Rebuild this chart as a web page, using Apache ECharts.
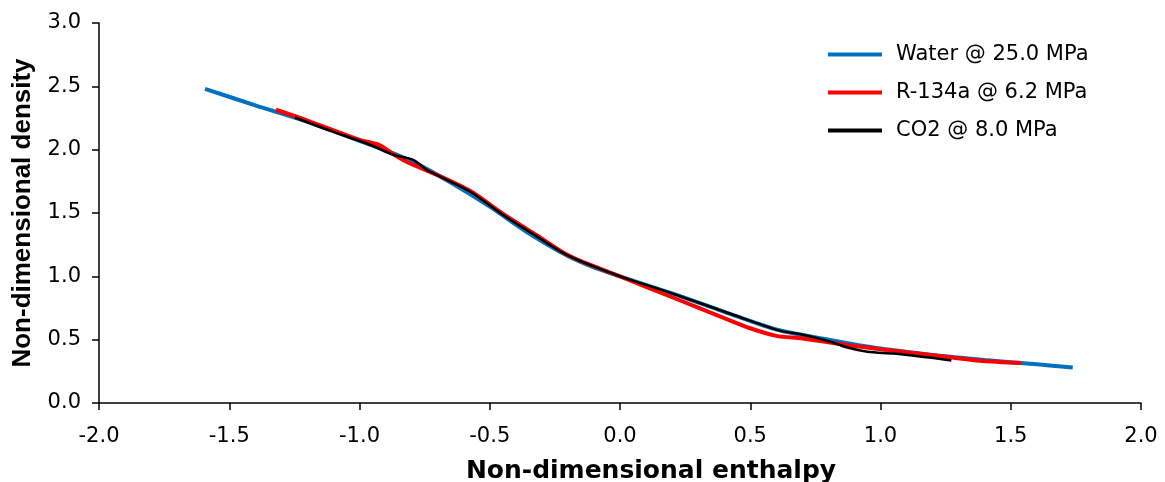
<!DOCTYPE html>
<html>
<head>
<meta charset="utf-8">
<script src="https://cdn.jsdelivr.net/npm/echarts@6/dist/echarts.min.js"></script>
<style>
  html, body { margin: 0; padding: 0; background: #fff; }
  #chart { width: 1165px; height: 482px; }
</style>
</head>
<body>
<div id="chart"></div>
<script>
// values
var waterX = [-1.593, -1.4, -1.2, -1.0, -0.8, -0.65, -0.5, -0.35, -0.2, -0.1, 0, 0.2, 0.4, 0.6, 0.8, 1.0, 1.2, 1.4, 1.6, 1.738]
var waterY = [2.48, 2.35, 2.22, 2.07, 1.91, 1.74, 1.55, 1.34, 1.16, 1.07, 1.0, 0.865, 0.72, 0.58, 0.50, 0.43, 0.38, 0.34, 0.305, 0.28]

var r134X = [-1.321, -1.2, -1.0, -0.922, -0.87, -0.82, -0.69, -0.576, -0.45, -0.32, -0.193, 0, 0.2, 0.4, 0.5, 0.6, 0.7, 0.8, 0.9, 1.0, 1.2, 1.38, 1.541]
var r134Y = [2.315, 2.23, 2.078, 2.035, 1.965, 1.905, 1.79, 1.675, 1.495, 1.325, 1.16, 1.0, 0.835, 0.67, 0.59, 0.53, 0.51, 0.48, 0.45, 0.425, 0.377, 0.334, 0.316]

var co2X = [-1.248, -1.1, -0.96, -0.871, -0.794, -0.742, -0.691, -0.576, -0.45, -0.32, -0.193, 0, 0.178, 0.434, 0.613, 0.69, 0.805, 0.869, 0.95, 1.05, 1.15, 1.272]
var co2Y = [2.254, 2.14, 2.039, 1.96, 1.92, 1.84, 1.788, 1.67, 1.486, 1.315, 1.157, 1.0, 0.881, 0.697, 0.571, 0.545, 0.486, 0.44, 0.405, 0.39, 0.368, 0.336]

var seriesNames = ['Water @ 25.0 MPa', 'R-134a @ 6.2 MPa', 'CO2 @ 8.0 MPa']
var seriesColors = ['#0070C0', '#FF0000', '#000000']

function pairs(xs, ys) {
    var out = []
    for (var i = 0; i < xs.length; i++) {
        out.push([xs[i], ys[i]])
    }
    return out
}

var tickFont = { fontFamily: 'DejaVu Sans', fontSize: 21, color: '#000' }

var myChart = echarts.init(document.getElementById('chart'), null, { renderer: 'canvas' })

var option = {
    animation: false,
    grid: { left: 99, right: 24, top: 23, bottom: 79, containLabel: false, outerBoundsMode: 'none' },
    legend: {
        orient: 'vertical',
        left: 823,
        top: 39,
        icon: 'rect',
        itemWidth: 54,
        itemHeight: 4,
        itemGap: 17,
        data: seriesNames,
        textStyle: {
            fontFamily: 'DejaVu Sans',
            fontSize: 21,
            color: '#000',
            padding: [0, 0, 0, 9]
        }
    },
    xAxis: {
        type: 'value',
        min: -2,
        max: 2,
        interval: 0.5,
        name: 'Non-dimensional enthalpy',
        nameLocation: 'middle',
        nameGap: 56,
        nameTextStyle: {
            fontFamily: 'DejaVu Sans',
            fontWeight: 'bold',
            fontSize: 25,
            color: '#000',
            padding: [0, 0, 0, 62]
        },
        axisLine: { onZero: false, lineStyle: { color: '#000', width: 1.5 } },
        axisTick: { show: true, inside: false, length: 7, lineStyle: { color: '#000', width: 1.5 } },
        splitLine: { show: false },
        axisLabel: Object.assign({
            margin: 23,
            formatter: function (v) { return v.toFixed(1) }
        }, tickFont)
    },
    yAxis: {
        type: 'value',
        min: 0,
        max: 3,
        interval: 0.5,
        name: 'Non-dimensional density',
        nameLocation: 'middle',
        nameGap: 63,
        nameTextStyle: {
            fontFamily: 'Liberation Sans',
            fontWeight: 'bold',
            fontSize: 26,
            color: '#000'
        },
        axisLine: { show: true, onZero: false, lineStyle: { color: '#000', width: 1.5 } },
        axisTick: { show: true, inside: false, length: 7, lineStyle: { color: '#000', width: 1.5 } },
        splitLine: { show: false },
        axisLabel: Object.assign({
            margin: 18,
            formatter: function (v) { return v.toFixed(1) }
        }, tickFont)
    },
    series: [
        {
            name: seriesNames[0],
            type: 'line',
            symbol: 'none',
            smooth: 0.3,
            data: pairs(waterX, waterY),
            color: seriesColors[0],
            lineStyle: { width: 4, color: seriesColors[0] },
            z: 2
        },
        {
            name: seriesNames[1],
            type: 'line',
            symbol: 'none',
            smooth: 0.3,
            data: pairs(r134X, r134Y),
            color: seriesColors[1],
            lineStyle: { width: 4, color: seriesColors[1] },
            z: 3
        },
        {
            name: seriesNames[2],
            type: 'line',
            symbol: 'none',
            smooth: 0.3,
            data: pairs(co2X, co2Y),
            color: seriesColors[2],
            lineStyle: { width: 2.5, color: seriesColors[2] },
            z: 4
        }
    ]
}

myChart.setOption(option)
</script>
</body>
</html>
